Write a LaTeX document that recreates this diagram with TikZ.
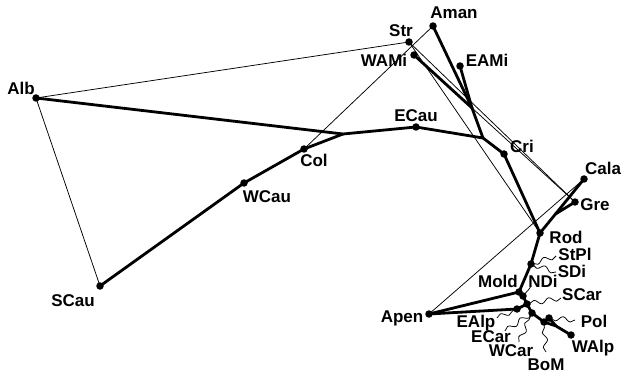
\documentclass[tikz,border=0pt]{standalone}
\usepackage{fontspec}
\setmainfont{Liberation Sans}
\usetikzlibrary{decorations.pathmorphing}
\begin{document}
\begin{tikzpicture}[x=1pt,y=-1pt,
  dot/.style={circle,fill=black,inner sep=0pt,minimum size=7.5pt},
  lab/.style={anchor=base,inner sep=0pt,font=\fontsize{17}{17}\selectfont\bfseries},
  thickln/.style={line width=2.8pt,line cap=round,line join=round},
  thinln/.style={line width=0.75pt},
  leader/.style={line width=0.75pt,decorate,decoration={snake,amplitude=2.4pt,segment length=15pt}}]
\useasboundingbox (0,0) rectangle (624,377);
% dots
\node[dot] (Alb) at (36,98) {};
\node[dot] (SCau) at (100,286) {};
\node[dot] (WCau) at (244,183) {};
\node[dot] (Col) at (304,149) {};
\node[dot] (ECau) at (416,127) {};
\node[dot] (Str) at (409,42) {};
\node[dot] (Aman) at (433,26) {};
\node[dot] (WAMi) at (414,55) {};
\node[dot] (EAMi) at (460,66) {};
\node[dot] (Cri) at (504,154) {};
\node[dot] (Cala) at (584,179) {};
\node[dot] (Gre) at (575,202) {};
\node[dot] (Rod) at (540,233) {};
\node[dot] (StPl) at (531,264) {};
\node[dot] (Mold) at (519,292) {};
\node[dot] (NDi) at (523,296) {};
\node[dot] (SCar) at (527,304) {};
\node[dot] (EAlp) at (517,309) {};
\node[dot] (ECar) at (532,313) {};
\node[dot] (BoM) at (544,322) {};
\node[dot] (Pol) at (549,318) {};
\node[dot] (WAlp) at (571,335) {};
\node[dot] (Apen) at (429,314) {};
% junctions
\coordinate (J1) at (343,134);
\coordinate (J2) at (483,138);
\coordinate (J3) at (472,108);
\coordinate (J5) at (555.5,214);
\coordinate (J6) at (556,326);
% thin lines
\draw[thinln] (Alb.center) -- (Str.center);
\draw[thinln] (Alb.center) -- (SCau.center);
\draw[thinln] (Col.center) -- (Aman.center);
\draw[thinln] (Apen.center) -- (Cala.center);
\draw[thinln] (Str.center) -- (Rod.center);
\draw[thinln] (WAMi.center) -- (Gre.center);
\draw[thinln] (Str.center) -- (Gre.center);
% thick lines
\draw[thickln] (Alb.center) -- (J1) -- (ECau.center) -- (J2) -- (Cri.center) -- (Rod.center) -- (J5) -- (Cala.center);
\draw[thickln] (J5) -- (Gre.center);
\draw[thickln] (SCau.center) -- (WCau.center) -- (Col.center) -- (J1);
\draw[thickln] (Aman.center) -- (J3);
\draw[thickln] (EAMi.center) -- (J3);
\draw[thickln] (WAMi.center) -- (J3) -- (J2);
\draw[thickln] (Rod.center) -- (StPl.center) -- (Mold.center) -- (NDi.center) -- (SCar.center) -- (ECar.center) -- (BoM.center) -- (J6) -- (WAlp.center);
\draw[thickln] (Pol.center) -- (J6);
\draw[thickln] (Apen.center) -- (Mold.center);
\draw[thickln] (Apen.center) -- (EAlp.center) -- (SCar.center);
% labels
\node[lab] (lAlb) at (21,95) {Alb};
\node[lab] (lSCau) at (73,306) {SCau};
\node[lab] (lWCau) at (267,202) {WCau};
\node[lab] (lCol) at (314,167) {Col};
\node[lab] (lECau) at (416,122) {ECau};
\node[lab] (lStr) at (401,37) {Str};
\node[lab] (lAman) at (454,19) {Aman};
\node[lab] (lWAMi) at (384,67) {WAMi};
\node[lab] (lEAMi) at (487,67) {EAMi};
\node[lab] (lCri) at (522,153) {Cri};
\node[lab] (lCala) at (603,175) {Cala};
\node[lab] (lGre) at (595,210) {Gre};
\node[lab] (lRod) at (566,243) {Rod};
\node[lab] (lStPl) at (575,260) {StPl};
\node[lab] (lSDi) at (572,277) {SDi};
\node[lab] (lNDi) at (543,287) {NDi};
\node[lab] (lMold) at (498,287) {Mold};
\node[lab] (lSCar) at (582,300) {SCar};
\node[lab] (lApen) at (402,322) {Apen};
\node[lab] (lEAlp) at (476,327) {EAlp};
\node[lab] (lECar) at (491,342) {ECar};
\node[lab] (lWCar) at (511,356) {WCar};
\node[lab] (lBoM) at (546,370) {BoM};
\node[lab] (lPol) at (594,327) {Pol};
\node[lab] (lWAlp) at (593,352) {WAlp};
% leader ends
\coordinate (aStPl) at (556,256);
\coordinate (aSDi) at (556,272);
\coordinate (aNDi) at (531,286);
\coordinate (aSCar) at (561,298);
\coordinate (aEAlp) at (497,318);
\coordinate (aECar) at (505,331);
\coordinate (aWCar) at (519,342);
\coordinate (aBoM) at (546,352);
\coordinate (aPol) at (575,320);
\draw[leader] (aStPl) -- (StPl.center);
\draw[leader] (aSDi) -- (StPl.center);
\draw[thinln] (aNDi) .. controls (529,290) and (527,291) .. (NDi.center);
\draw[leader] (aSCar) -- (SCar.center);
\draw[leader] (aEAlp) -- (EAlp.center);
\draw[leader] (aECar) -- (ECar.center);
\draw[leader] (aWCar) -- (ECar.center);
\draw[leader] (aBoM) -- (BoM.center);
\draw[leader] (aPol) -- (Pol.center);
\end{tikzpicture}
\end{document}
